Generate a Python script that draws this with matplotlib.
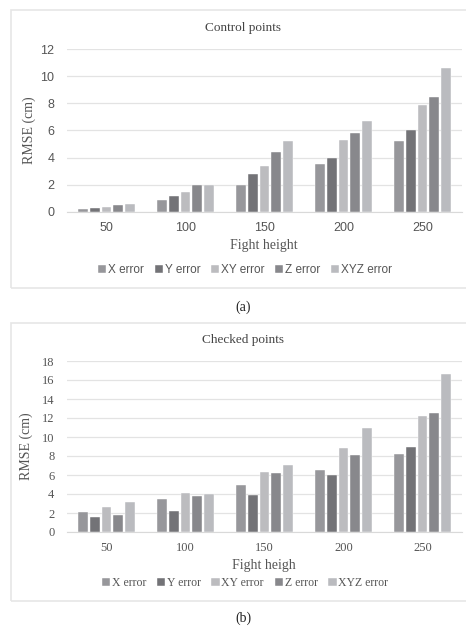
import numpy as np
import matplotlib
matplotlib.use("Agg")
import matplotlib.pyplot as plt
from matplotlib.patches import Rectangle

heights = ["50", "100", "150", "200", "250"]
series = ["X error", "Y error", "XY error", "Z error", "XYZ error"]
colors = ["#97979b", "#737377", "#bcbcbf", "#88888c", "#babbbf"]

control_x = [0.2, 0.9, 2.0, 3.5, 5.2]
control_y = [0.3, 1.2, 2.8, 4.0, 6.0]
control_xy = [0.4, 1.5, 3.4, 5.3, 7.9]
control_z = [0.5, 2.0, 4.4, 5.8, 8.5]
control_xyz = [0.6, 2.0, 5.2, 6.7, 10.6]

checked_x = [2.1, 3.5, 5.0, 6.5, 8.2]
checked_y = [1.6, 2.2, 3.9, 6.0, 9.0]
checked_xy = [2.6, 4.1, 6.3, 8.8, 12.2]
checked_z = [1.8, 3.8, 6.2, 8.1, 12.5]
checked_xyz = [3.2, 4.0, 7.1, 10.9, 16.6]

W, H = 466, 628
SERIF = ["Liberation Serif", "DejaVu Serif"]
SANS = ["Liberation Sans", "DejaVu Sans"]

fig = plt.figure(figsize=(W / 100, H / 100), dpi=100)


def px_axes(left, top, right, bottom):
    return fig.add_axes([left / W, 1 - bottom / H, (right - left) / W, (bottom - top) / H])


def panel(ax, data, ymax, title, xlabel, tick_font, legend_font,
          box, title_y, xlabel_y, ylabel_x, legend_y, letter, letter_y):
    # light frame around the whole panel (runs off the right edge like the original)
    fig.patches.append(Rectangle((box[0] / W, 1 - box[3] / H),
                                 (box[2] - box[0]) / W, (box[3] - box[1]) / H,
                                 transform=fig.transFigure, fill=False,
                                 edgecolor="#e6e6e6", lw=1.2))
    x = np.arange(len(heights))
    step, width = 0.15, 0.125
    for i, (vals, name, c) in enumerate(zip(data, series, colors)):
        ax.bar(x + (i - 2) * step, vals, width, color=c, label=name,
               edgecolor="white", linewidth=0.3, zorder=3)
    ax.set_xlim(-0.5, len(heights) - 0.5)
    ax.set_ylim(0, ymax)
    ax.set_yticks(np.arange(0, ymax + 1, 2))
    ax.set_xticks(x)
    ax.set_xticklabels(heights)
    for s in ax.spines.values():
        s.set_visible(False)
    ax.spines["bottom"].set_visible(True)
    ax.spines["bottom"].set_color("#d9d9d9")
    ax.grid(axis="y", color="#e3e3e3", lw=0.9, zorder=0)
    ax.tick_params(length=0, colors="#555555")
    ax.tick_params(axis="x", pad=7)
    ax.tick_params(axis="y", pad=9)
    for t in ax.get_xticklabels() + ax.get_yticklabels():
        t.set_family(tick_font)
        t.set_fontsize(9)

    fig.text(243 / W, 1 - title_y / H, title, family=SERIF, fontsize=9.5,
             color="#444444", ha="center", va="center")
    fig.text(264 / W, 1 - xlabel_y / H, xlabel, family=SERIF, fontsize=10,
             color="#555555", ha="center", va="center")
    ax.set_ylabel("RMSE (cm)", family=SERIF, fontsize=10, color="#555555")
    ax.yaxis.set_label_coords(-(67 - ylabel_x - 6) / (462 - 67), 0.5)
    fig.legend(*ax.get_legend_handles_labels(), loc="center",
               bbox_to_anchor=(245 / W, 1 - legend_y / H), ncol=5, frameon=False,
               prop={"family": legend_font, "size": 8.5}, labelcolor="#555555",
               handlelength=0.7, handleheight=0.7, handletextpad=0.15,
               columnspacing=0.9)
    fig.text(243 / W, 1 - letter_y / H, letter, family=SERIF, fontsize=10,
             color="#222222", ha="center", va="center")


ax_a = px_axes(67, 49, 462, 212)
panel(ax_a, [control_x, control_y, control_xy, control_z, control_xyz], 12,
      "Control points", "Fight height", SANS, SANS,
      (11, 10, 520, 288), 28, 246, 30, 270, "(a)", 307)

ax_b = px_axes(67, 361, 462, 532)
panel(ax_b, [checked_x, checked_y, checked_xy, checked_z, checked_xyz], 18,
      "Checked points", "Fight heigh", SERIF, SERIF,
      (11, 323, 520, 601), 340, 565, 27, 583, "(b)", 618)

fig.savefig("out.png", dpi=100)
